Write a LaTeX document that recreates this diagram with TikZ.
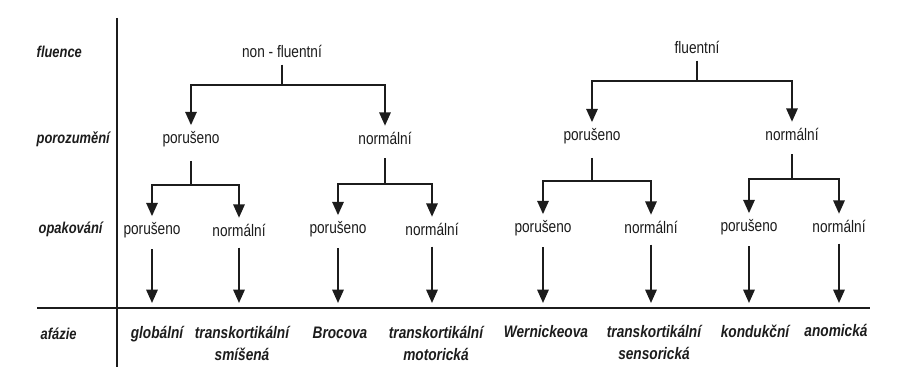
\documentclass[tikz,border=0pt]{standalone}
\usepackage{fontspec}
\setmainfont{Liberation Sans}[FakeStretch=0.82]
\usetikzlibrary{arrows.meta, positioning}
\definecolor{ink}{HTML}{1C1C1C}
\definecolor{paper}{HTML}{FFFFFF}

\begin{document}
\begin{tikzpicture}[
  x=0.75pt, y=-0.75pt,
  >={Triangle[length=10pt, width=8.5pt]},
  val/.style={font=\fontsize{12.5}{14}\selectfont, text=ink},
  rowlbl/.style={font=\fontsize{11.8}{14}\selectfont\bfseries\itshape, text=ink, anchor=west},
  afx/.style={font=\fontsize{12.5}{16}\selectfont\bfseries\itshape, text=ink, anchor=north, align=center},
  link/.style={ink, line width=1.5pt},
  fork/.style={link, <->, shorten <=1pt, shorten >=1pt},
]

% Background
\fill[paper] (0,0) rectangle (904,388);
\useasboundingbox (0,0) rectangle (904,388);

% Frame lines
\draw[ink, line width=1.6pt] (117,18) -- (117,367);
\draw[ink, line width=2.2pt] (37,308) -- (870,308);

% Row labels
\node[rowlbl] (rFlu) at (32,52)  {fluence};
\node[rowlbl] (rPor) at (32,139) {porozumění};
\node[rowlbl] (rOpa) at (34,229) {opakování};
\node[rowlbl] (rAfa) at (36,334) {afázie};

% ========================================
% fluence
% ========================================
\node[val] (nf) at (282,51) {non - fluentní};
\node[val] (fl) at (697,47) {fluentní};

% ========================================
% porozumeni
% ========================================
\node[val] (p1) at (191,139) {porušeno};
\node[val] (n1) at (385,138) {normální};
\node[val] (p2) at (592,136) {porušeno};
\node[val] (n2) at (792,134) {normální};

\coordinate (j1) at (282,85);
\coordinate (j2) at (697,81);
\draw[link, shorten <=2pt] (nf) -- (j1);
\draw[fork] (p1) |- (j1) -| (n1);
\draw[link, shorten <=2pt] (fl) -- (j2);
\draw[fork] (p2) |- (j2) -| (n2);

% ========================================
% opakovani
% ========================================
\node[val] (o1) at (152,230) {porušeno};
\node[val] (o2) at (239,230) {normální};
\node[val] (o3) at (338,229) {porušeno};
\node[val] (o4) at (432,229) {normální};
\node[val] (o5) at (543,228) {porušeno};
\node[val] (o6) at (651,227) {normální};
\node[val] (o7) at (749,227) {porušeno};
\node[val] (o8) at (839,226) {normální};

\coordinate (j3) at (191,185);
\coordinate (j4) at (385,184);
\coordinate (j5) at (592,181);
\coordinate (j6) at (792,179);
\draw[link, shorten <=7pt] (p1) -- (j3);
\draw[fork] (o1) |- (j3) -| (o2);
\draw[link, shorten <=7pt] (n1) -- (j4);
\draw[fork] (o3) |- (j4) -| (o4);
\draw[link, shorten <=7pt] (p2) -- (j5);
\draw[fork] (o5) |- (j5) -| (o6);
\draw[link, shorten <=7pt] (n2) -- (j6);
\draw[fork] (o7) |- (j6) -| (o8);

% ========================================
% afazie
% ========================================
\coordinate (e1) at (152,303);
\coordinate (e2) at (239,303);
\coordinate (e3) at (338,303);
\coordinate (e4) at (432,303);
\coordinate (e5) at (543,303);
\coordinate (e6) at (651,303);
\coordinate (e7) at (749,303);
\coordinate (e8) at (839,303);
\draw[link, ->, shorten <=5pt] (o1) -- (e1);
\draw[link, ->, shorten <=5pt] (o2) -- (e2);
\draw[link, ->, shorten <=5pt] (o3) -- (e3);
\draw[link, ->, shorten <=5pt] (o4) -- (e4);
\draw[link, ->, shorten <=5pt] (o5) -- (e5);
\draw[link, ->, shorten <=5pt] (o6) -- (e6);
\draw[link, ->, shorten <=5pt] (o7) -- (e7);
\draw[link, ->, shorten <=5pt] (o8) -- (e8);

\node[afx] (a1) at (157,322) {globální};
\node[afx] (a2) at (242,322) {transkortikální\\smíšená};
\node[afx] (a3) at (340,322) {Brocova};
\node[afx] (a4) at (436,322) {transkortikální\\motorická};
\node[afx] (a5) at (546,321) {Wernickeova};
\node[afx] (a6) at (654,321) {transkortikální\\sensorická};
\node[afx] (a7) at (755,320) {kondukční};
\node[afx] (a8) at (836,320) {anomická};

\end{tikzpicture}
\end{document}
